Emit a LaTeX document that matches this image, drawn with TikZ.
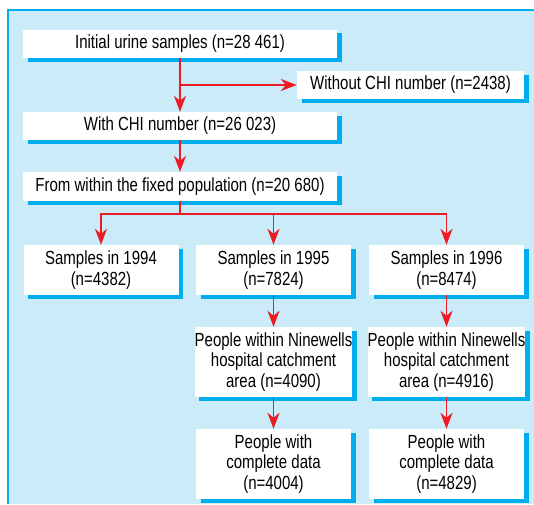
\documentclass[tikz,border=0pt]{standalone}
\usepackage{fontspec}
\setmainfont{Liberation Sans}[FakeStretch=0.79]
\usepackage{tikz}
\usetikzlibrary{arrows.meta, shadows}

\definecolor{panelblue}{RGB}{204,235,249}
\definecolor{shadowcyan}{RGB}{0,174,239}
\definecolor{arrowred}{RGB}{237,28,36}

\tikzset{
  box/.style={fill=white, align=center, inner sep=0pt,
    font=\fontsize{19}{20.4}\selectfont,
    drop shadow={shadow xshift=4.5pt, shadow yshift=-3.5pt, fill=shadowcyan, opacity=1}},
  arr/.style={-{Stealth[length=16pt, width=12pt, inset=5pt]}, draw=arrowred, line width=1.8pt},
  link/.style={draw=arrowred, line width=1.8pt},
}

\begin{document}
\begin{tikzpicture}[x=1pt, y=-1pt]
    \useasboundingbox (0,0) rectangle (534,504);
    % panel
    \fill[panelblue] (8,10) rectangle (534,504);
    \draw[shadowcyan, line width=1.5pt] (534,10) -- (8,10) -- (8,504);

    % top of the chart
    \node[box, minimum width=314pt, minimum height=28.5pt] (initial) at (180,44) {Initial urine samples (n=28 461)};
    \node[box, minimum width=227pt, minimum height=28pt] (without) at (410.5,85) {Without CHI number (n=2438)};
    \node[box, minimum width=314pt, minimum height=28pt] (withchi) at (180,126) {With CHI number (n=26 023)};
    \node[box, minimum width=314pt, minimum height=29pt] (within) at (180,186.5) {From within the fixed population (n=20 680)};

    % samples per year
    \node[box, minimum width=155pt, minimum height=50pt] (s94) at (101,270) {Samples in 1994\\(n=4382)};
    \node[box, minimum width=155pt, minimum height=50pt] (s95) at (273.5,270) {Samples in 1995\\(n=7824)};
    \node[box, minimum width=155pt, minimum height=50pt] (s96) at (446.5,270) {Samples in 1996\\(n=8474)};

    \node[box, minimum width=155pt, minimum height=70pt] (area95) at (273.5,362) {People within Ninewells\\hospital catchment\\area (n=4090)};
    \node[box, minimum width=155pt, minimum height=70pt] (area96) at (446.5,362) {People within Ninewells\\hospital catchment\\area (n=4916)};

    \node[box, minimum width=155pt, minimum height=70pt] (data95) at (273.5,464) {People with\\complete data\\(n=4004)};
    \node[box, minimum width=155pt, minimum height=70pt] (data96) at (446.5,464) {People with\\complete data\\(n=4829)};

    % connectors
    \draw[arr] (initial) -- (withchi);
    \draw[arr] (initial.south |- without.west) -- (without.west);
    \draw[arr] (withchi) -- (within);
    \draw[link] (within.south) -- ++(0,13) coordinate (fork);
    \draw[arr] (fork) -| (s94);
    \draw[arr] (fork) -| (s95);
    \draw[arr] (fork) -| (s96);
    \draw[arr] (s95) -- (area95);
    \draw[arr] (s96) -- (area96);
    \draw[arr] (area95) -- (data95);
    \draw[arr] (area96) -- (data96);
\end{tikzpicture}
\end{document}
